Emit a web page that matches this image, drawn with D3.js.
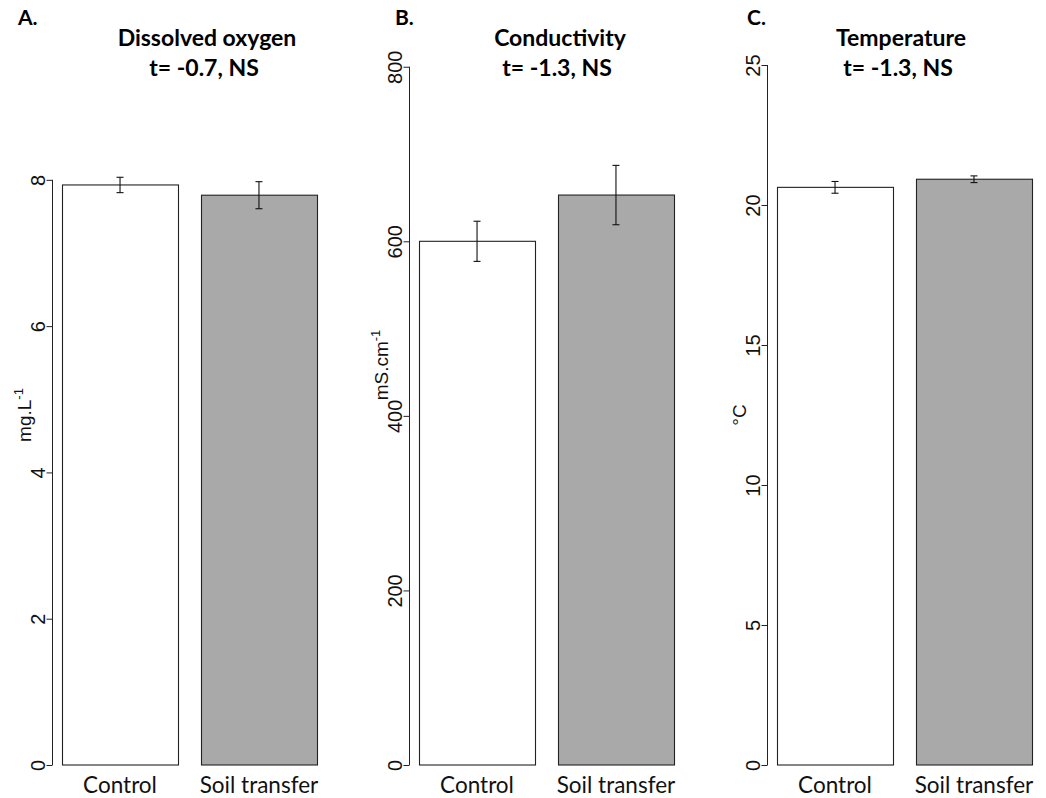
<!DOCTYPE html>
<html>
<head>
<meta charset="utf-8">
<script src="https://cdn.jsdelivr.net/npm/d3@7"></script>
<style>
  body { margin: 0; background: #fff; }
</style>
</head>
<body>
<div id="chart"></div>
<script>
// data (means and standard errors)
const groups = ["Control", "Soil transfer"];
const barFills = ["#ffffff", "#a9a9a9"];

const oxygenMean = [7.93, 7.79];
const oxygenSE = [0.105, 0.185];
const oxygenTicks = [0, 2, 4, 6, 8];

const conductMean = [600, 653];
const conductSE = [23, 34];
const conductTicks = [0, 200, 400, 600, 800];

const tempMean = [20.63, 20.92];
const tempSE = [0.21, 0.12];
const tempTicks = [0, 5, 10, 15, 20, 25];

const panelLetters = ["A.", "B.", "C."];
const panelTitles = ["Dissolved oxygen", "Conductivity", "Temperature"];
const panelStats = ["t= -0.7, NS", "t= -1.3, NS", "t= -1.3, NS"];

// layout
const W = 1046, H = 798;
const plotTop = 65, plotBottom = 765;
const axisX = [52, 409, 767];
const titleX = [207, 560, 901];
const letterX = [18, 395, 747];
const unitY = [415, 365, 415];
const yMax = [9.57, 802, 25];

const panels = [
  {mean: oxygenMean, se: oxygenSE, ticks: oxygenTicks, unit: ["mg.L", "-1"]},
  {mean: conductMean, se: conductSE, ticks: conductTicks, unit: ["mS.cm", "-1"]},
  {mean: tempMean, se: tempSE, ticks: tempTicks, unit: ["°C", ""]}
];

const svg = d3.select("#chart")
  .append("svg")
  .attr("width", W)
  .attr("height", H)
  .style("font-family", "Lato, 'Open Sans', sans-serif");

panels.forEach(function (p, i) {
  let g = svg.append("g");
  let x0 = axisX[i];

  let y = d3.scaleLinear()
    .domain([0, yMax[i]])
    .range([plotBottom, plotTop]);

  let x = d3.scaleBand()
    .domain(groups)
    .range([x0, x0 + 275])
    .paddingInner(1 / 6)
    .paddingOuter(0.073);

  // bars
  g.selectAll("rect.bar")
    .data(groups)
    .enter()
    .append("rect")
    .attr("class", "bar")
    .attr("x", d => Math.round(x(d)) + 0.5)
    .attr("width", Math.round(x.bandwidth()))
    .attr("y", (d, k) => y(p.mean[k]))
    .attr("height", (d, k) => y(0) - y(p.mean[k]))
    .attr("fill", (d, k) => barFills[k])
    .attr("stroke", "#222")
    .attr("stroke-width", 1.1);

  // error bars
  let eb = g.selectAll("g.err")
    .data(groups)
    .enter()
    .append("g")
    .attr("class", "err")
    .attr("stroke", "#111")
    .attr("stroke-width", 1.1);
  eb.append("line")
    .attr("x1", d => x(d) + x.bandwidth() / 2)
    .attr("x2", d => x(d) + x.bandwidth() / 2)
    .attr("y1", (d, k) => y(p.mean[k] - p.se[k]))
    .attr("y2", (d, k) => y(p.mean[k] + p.se[k]));
  [-1, 1].forEach(function (s) {
    eb.append("line")
      .attr("x1", d => x(d) + x.bandwidth() / 2 - 3.5)
      .attr("x2", d => x(d) + x.bandwidth() / 2 + 3.5)
      .attr("y1", (d, k) => y(p.mean[k] + s * p.se[k]))
      .attr("y2", (d, k) => y(p.mean[k] + s * p.se[k]));
  });

  // y axis (line only spans the ticks, like R)
  let ax = g.append("g")
    .attr("transform", "translate(" + (x0 + 0.5) + ",0)")
    .call(d3.axisLeft(y).tickValues(p.ticks).tickSize(6).tickFormat(d3.format("d")));
  ax.select(".domain").remove();
  ax.selectAll(".tick line").attr("stroke", "#222");
  ax.append("line")
    .attr("y1", y(p.ticks[0]))
    .attr("y2", y(p.ticks[p.ticks.length - 1]))
    .attr("stroke", "#222");
  ax.selectAll(".tick text")
    .attr("x", null)
    .attr("dy", null)
    .attr("transform", "translate(-8,0) rotate(-90)")
    .attr("text-anchor", "middle")
    .attr("fill", "#111")
    .style("font-family", "'Liberation Sans', Arial, sans-serif")
    .style("font-size", "20px");

  // y axis title
  let yl = g.append("text")
    .attr("transform", "translate(" + (x0 - 21) + "," + unitY[i] + ") rotate(-90)")
    .attr("text-anchor", "middle")
    .style("font-family", "'Liberation Sans', Arial, sans-serif")
    .style("font-size", "19px")
    .attr("fill", "#111");
  yl.append("tspan").text(p.unit[0]);
  if (p.unit[1]) {
    yl.append("tspan")
      .attr("dy", -8)
      .style("font-size", "13px")
      .text(p.unit[1]);
  }

  // category labels
  g.selectAll("text.cat")
    .data(groups)
    .enter()
    .append("text")
    .attr("class", "cat")
    .attr("x", d => x(d) + x.bandwidth() / 2)
    .attr("y", 793)
    .attr("text-anchor", "middle")
    .style("font-size", "22.5px")
    .attr("fill", "#111")
    .text(d => d);

  // panel letter and titles
  g.append("text")
    .attr("x", letterX[i])
    .attr("y", 25)
    .style("font-size", "21px")
    .style("font-weight", "bold")
    .text(panelLetters[i]);

  g.append("text")
    .attr("x", titleX[i])
    .attr("y", 46)
    .attr("text-anchor", "middle")
    .style("font-size", "23px")
    .style("font-weight", "bold")
    .text(panelTitles[i]);

  g.append("text")
    .attr("x", titleX[i] - 3)
    .attr("y", 76)
    .attr("text-anchor", "middle")
    .style("font-size", "23px")
    .style("font-weight", "bold")
    .text(panelStats[i]);
});
</script>
</body>
</html>
